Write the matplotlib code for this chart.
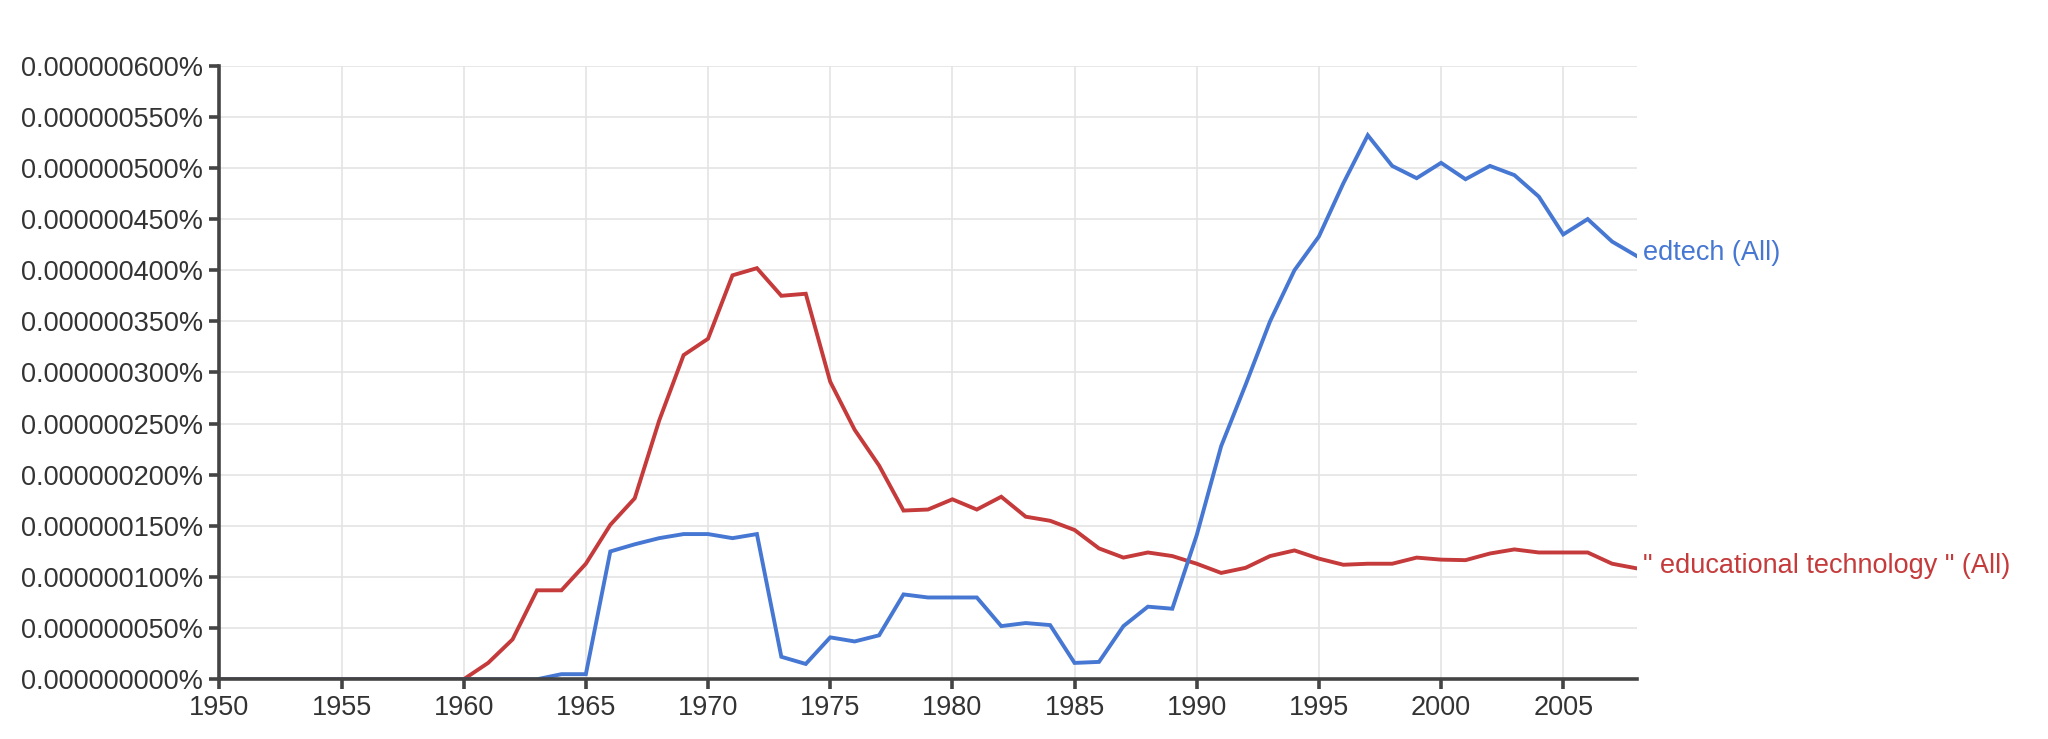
import matplotlib
matplotlib.use("Agg")
import matplotlib.pyplot as plt
from matplotlib.ticker import FuncFormatter, MultipleLocator

plt.rcParams["font.family"] = ["Liberation Sans", "DejaVu Sans"]

BLUE, RED, INK, AXIS, GRID = "#4677d2", "#c53a3a", "#333333", "#444444", "#e4e4e4"

years = list(range(1950, 2009))
# values in units of 1e-7 percent (6.0 -> 0.000000600%)
edtech = [0.0] * 14 + [0.05, 0.05, 1.25, 1.32, 1.38, 1.42, 1.42, 1.38, 1.42, 0.22,
          0.15, 0.41, 0.37, 0.43, 0.83, 0.80, 0.80, 0.80, 0.52, 0.55,
          0.53, 0.16, 0.17, 0.52, 0.71, 0.69, 1.41, 2.28, 2.88, 3.50,
          4.00, 4.33, 4.85, 5.32, 5.02, 4.90, 5.05, 4.89, 5.02, 4.93,
          4.72, 4.35, 4.50, 4.28, 4.14]
edu_tech = [0.0] * 11 + [0.16, 0.39, 0.87, 0.87, 1.13, 1.51, 1.77, 2.53, 3.17,
            3.33, 3.95, 4.02, 3.75, 3.77, 2.91, 2.44, 2.09, 1.65, 1.66,
            1.76, 1.66, 1.785, 1.59, 1.55, 1.46, 1.28, 1.19, 1.24, 1.205,
            1.13, 1.04, 1.09, 1.205, 1.26, 1.18, 1.12, 1.13, 1.13, 1.19,
            1.17, 1.165, 1.23, 1.27, 1.24, 1.24, 1.24, 1.13, 1.085]
labels = ["edtech (All)", '" educational technology " (All)']

fig = plt.figure(figsize=(20.48, 7.39), dpi=100)
ax = fig.add_axes([0.1071, 0.0808, 0.6920, 0.8303])

ax.plot(years, edu_tech, color=RED, lw=2.8, solid_joinstyle="miter", zorder=3)
ax.plot(years, edtech, color=BLUE, lw=2.8, solid_joinstyle="miter", zorder=4)

ax.set_xlim(1950, 2008)
ax.set_ylim(0, 6.0)
ax.xaxis.set_major_locator(MultipleLocator(5))
ax.yaxis.set_major_locator(MultipleLocator(0.5))
ax.yaxis.set_major_formatter(FuncFormatter(lambda v, p: f"{v * 1e-7:.9f}%"))

ax.grid(True, color=GRID, lw=1.2, zorder=0)
for s in ("top", "right"):
    ax.spines[s].set_visible(False)
for s in ("left", "bottom"):
    ax.spines[s].set_color(AXIS)
    ax.spines[s].set_linewidth(2.6)
    ax.spines[s].set_zorder(5)
ax.tick_params(axis="both", colors=AXIS, labelcolor=INK, labelsize=19.5,
               length=7.5, width=2.6, pad=4)

# series labels at the right end of each line
ax.text(1.0045, edtech[-1] / 6.0 + 0.004, labels[0], transform=ax.transAxes, color=BLUE,
        fontsize=19.5, va="center", ha="left")
ax.text(1.0045, edu_tech[-1] / 6.0 + 0.004, labels[1], transform=ax.transAxes, color=RED,
        fontsize=19.5, va="center", ha="left")

fig.savefig("out.png", dpi=100)
